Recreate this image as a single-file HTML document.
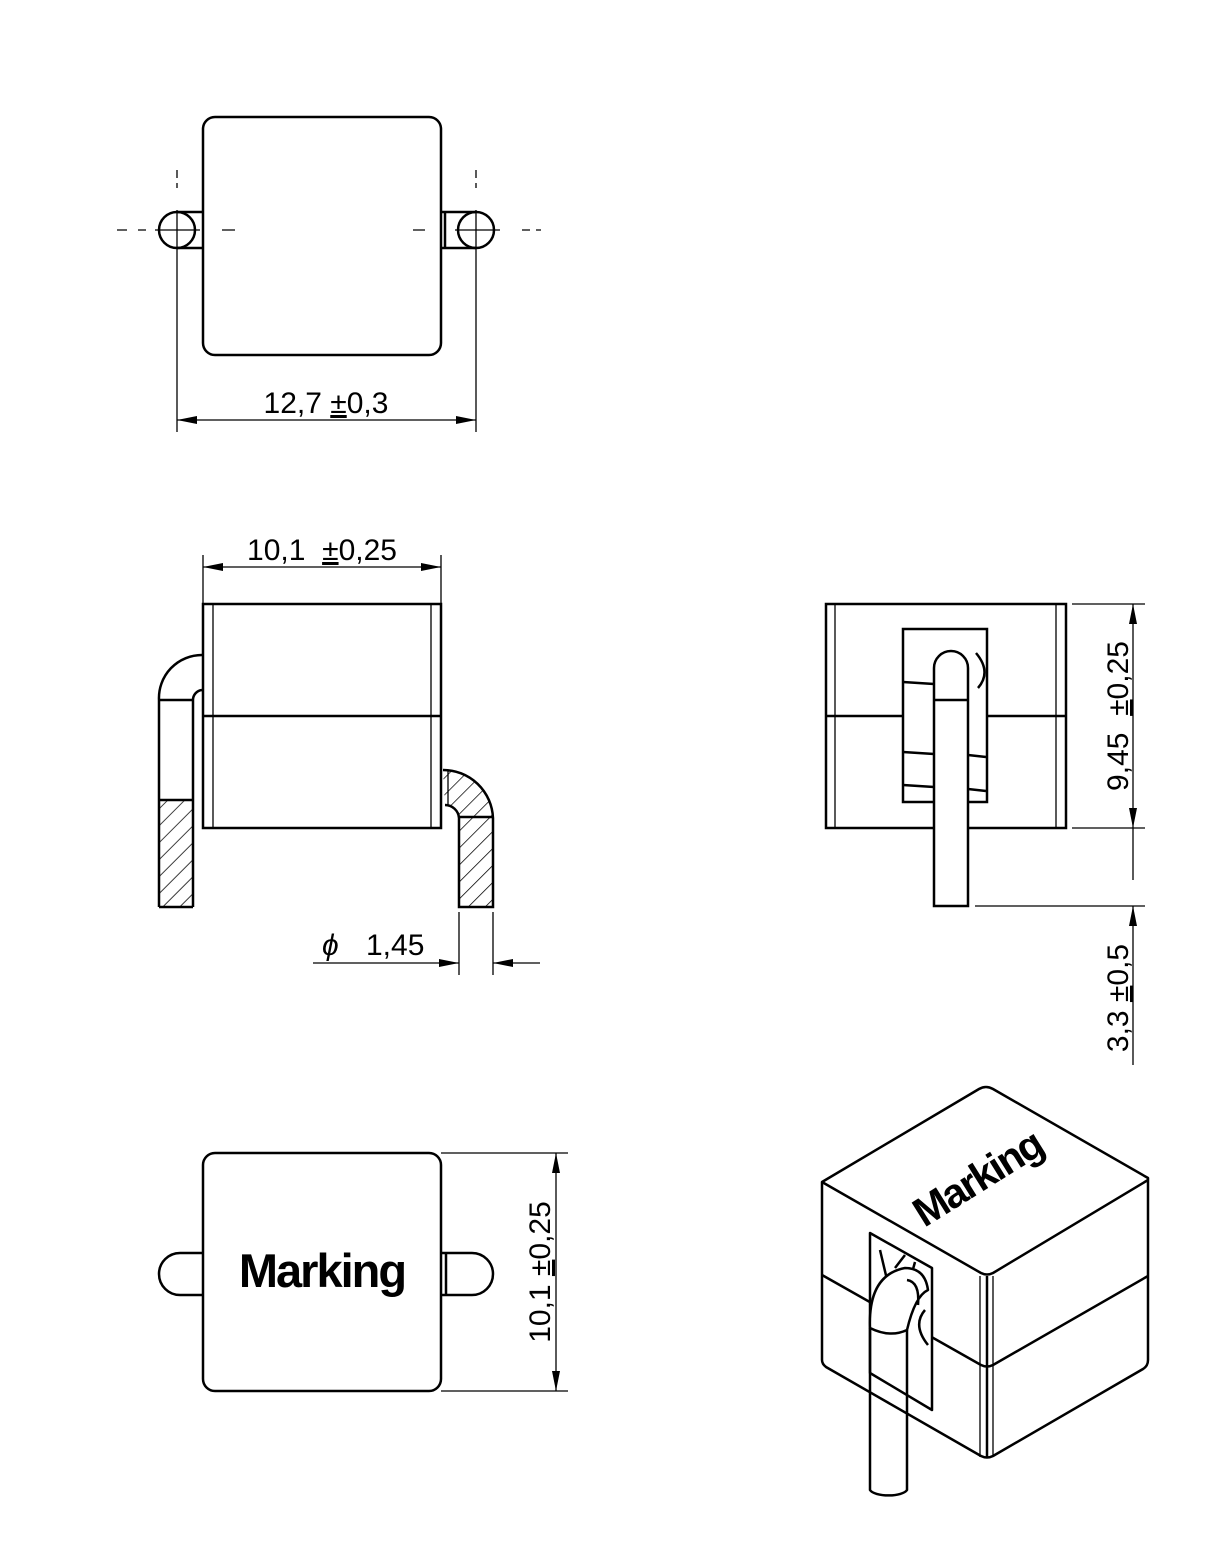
<!DOCTYPE html>
<html><head><meta charset="utf-8"><style>
html,body{margin:0;padding:0;background:#fff;}
svg{display:block;}
text{font-family:"Liberation Sans",sans-serif;fill:#000;}
</style></head><body>
<svg width="1229" height="1558" viewBox="0 0 1229 1558" xmlns="http://www.w3.org/2000/svg">
<defs>
<pattern id="h" patternUnits="userSpaceOnUse" width="12" height="12" patternTransform="rotate(45)">
<line x1="0" y1="0" x2="0" y2="12" stroke="#000" stroke-width="1.5"/>
</pattern>
<marker id="a" viewBox="0 0 20 8" refX="20" refY="4" markerWidth="20" markerHeight="8" markerUnits="userSpaceOnUse" orient="auto">
<path d="M0,0 L20,4 L0,8 Z" fill="#000"/></marker>
</defs>
<g fill="none" stroke="#000" stroke-width="2.5">
<!-- TOP VIEW -->
<rect x="203" y="117" width="238" height="238" rx="12"/>
<path d="M177,212 H203 M177,248 H203 M476,212 H441 M476,248 H441 M445,212 V248"/>
<circle cx="177" cy="230" r="18"/>
<circle cx="476" cy="230" r="18"/>
</g>
<g stroke="#000" stroke-width="1.3" fill="none">
<path d="M155,230 H200 M476,210 V432 M177,210 V432 M455,230 H500"/>
<path d="M117,230 H127 M138,230 H146 M222,230 H235 M413,230 H425 M522,230 H530 M536,230 H541"/>
<path d="M177,170 V178 M177,183 V188 M476,170 V178 M476,183 V188"/>
<line x1="326" y1="420" x2="177" y2="420" marker-end="url(#a)"/>
<line x1="326" y1="420" x2="476" y2="420" marker-end="url(#a)"/>
</g>
<text x="326" y="413" font-size="30" text-anchor="middle">12,7 <tspan text-decoration="underline">±</tspan>0,3</text>

<!-- FRONT VIEW -->
<g fill="none" stroke="#000" stroke-width="2.5">
<rect x="203" y="604" width="238" height="224"/>
<line x1="203" y1="716" x2="441" y2="716"/>
</g>
<g stroke="#000" stroke-width="1.3" fill="none">
<path d="M213,604 V828 M431,604 V828"/>
<path d="M203,555 V604 M441,555 V604"/>
<line x1="322" y1="567" x2="441" y2="567" marker-end="url(#a)"/>
<line x1="322" y1="567" x2="203" y2="567" marker-end="url(#a)"/>
</g>
<text x="322" y="560" font-size="30" text-anchor="middle">10,1 &#160;<tspan text-decoration="underline">±</tspan>0,25</text>
<!-- left lead -->
<rect x="159" y="800" width="34" height="107" fill="url(#h)"/>
<g fill="none" stroke="#000" stroke-width="2.5">
<path d="M159,907 V700 A43,43 0 0 1 202,655"/>
<path d="M193,907 V700 A10,10 0 0 1 202,690"/>
<path d="M159,700 H193 M159,907 H193 M159,800 H193"/>
</g>
<!-- right lead -->
<path d="M443,770 A50,50 0 0 1 493,818 V907 H459 V818 A14,14 0 0 0 445,805 Z" fill="url(#h)" stroke="none"/>
<g fill="none" stroke="#000" stroke-width="2.5">
<path d="M443,770 A50,50 0 0 1 493,818 V907 H459 V818 A14,14 0 0 0 445,805"/>
<path d="M459,817 H493"/>
</g>
<g stroke="#000" stroke-width="1.3" fill="none">
<path d="M448,770 V805 M459,912 V975 M493,912 V975"/>
<line x1="313" y1="963" x2="459" y2="963" marker-end="url(#a)"/>
<line x1="540" y1="963" x2="493" y2="963" marker-end="url(#a)"/>
</g>
<text x="322" y="955" font-size="30" font-style="italic">ϕ</text>
<text x="366" y="955" font-size="30">1,45</text>

<!-- SIDE VIEW -->
<g fill="none" stroke="#000" stroke-width="2.5">
<rect x="826" y="604" width="240" height="224"/>
<path d="M826,716 H903 M986,716 H1066"/>
<rect x="903" y="629" width="84" height="173"/>
<path d="M903,682 L934,684 M903,752 L934,754 M903,785 L934,787 M968,755 L986,757 M968,789 L986,791 M976,653 Q992,672 978,688"/>
<path d="M934,906 V668 A17,17 0 0 1 968,668 V906 Z" fill="#fff"/>
<path d="M934,700 H968"/>
</g>
<g stroke="#000" stroke-width="1.3" fill="none">
<path d="M835,604 V828 M1056,604 V828"/>
<path d="M1072,604 H1145 M1072,828 H1145 M975,906 H1145"/>
<line x1="1133" y1="716" x2="1133" y2="604" marker-end="url(#a)"/>
<line x1="1133" y1="716" x2="1133" y2="828" marker-end="url(#a)"/>
<line x1="1133" y1="1065" x2="1133" y2="906" marker-end="url(#a)"/>
<line x1="1133" y1="828" x2="1133" y2="880" />
</g>
<text transform="translate(1128,716) rotate(-90)" font-size="30" text-anchor="middle">9,45 &#160;<tspan text-decoration="underline">±</tspan>0,25</text>
<text transform="translate(1128,998) rotate(-90)" font-size="30" text-anchor="middle">3,3 <tspan text-decoration="underline">±</tspan>0,5</text>

<!-- BOTTOM VIEW -->
<g fill="none" stroke="#000" stroke-width="2.5">
<path d="M203,1253 H180 A21,21 0 0 0 180,1295 H203"/>
<path d="M441,1253 H472 A21,21 0 0 1 472,1295 H441 M446,1253 V1295"/>
<rect x="203" y="1153" width="238" height="238" rx="12" fill="#fff"/>
</g>
<text x="322" y="1287" font-size="47" font-weight="bold" text-anchor="middle" letter-spacing="-2">Marking</text>
<g stroke="#000" stroke-width="1.3" fill="none">
<path d="M441,1153 H568 M441,1391 H568"/>
<line x1="556" y1="1272" x2="556" y2="1153" marker-end="url(#a)"/>
<line x1="556" y1="1272" x2="556" y2="1391" marker-end="url(#a)"/>
</g>
<text transform="translate(550,1272) rotate(-90)" font-size="30" text-anchor="middle">10,1 <tspan text-decoration="underline">±</tspan>0,25</text>

<!-- ISO VIEW -->
<g fill="none" stroke="#000" stroke-width="2.5" stroke-linejoin="round">
<path d="M822,1182 L979,1089 Q986,1085 993,1089 L1148,1178 V1360 Q1148,1366 1143,1369 L993,1456 Q987,1459 981,1456 L826,1367 Q822,1364 822,1360 Z"/>
<path d="M822,1182 L981,1273 Q987,1276 993,1273 L1148,1180"/>
<path d="M822,1275 L981,1365 Q987,1368 993,1365 L1148,1276"/>
<path d="M987,1276 V1457"/>
<path d="M870,1233 L932,1268 V1410 L870,1373 Z" fill="#fff"/>
<path d="M880,1250 L893,1305 M905,1255 L895,1268 M915,1262 L910,1280 M925,1310 Q912,1325 928,1345"/>
<path d="M870,1328 V1490 A19,7 0 0 0 907,1490 V1330"/>
<path d="M870,1328 Q868,1275 905,1268 Q925,1268 928,1290 Q915,1296 907,1330 Q890,1338 870,1328 Z" fill="#fff"/>
<path d="M907,1280 Q920,1282 918,1305"/>
</g>
<g stroke="#000" stroke-width="1.3"><path d="M980,1276 V1457 M993,1276 V1457"/></g>
<text transform="translate(985,1190) rotate(-32)" font-size="41" font-weight="bold" text-anchor="middle" letter-spacing="-2">Marking</text>
</svg>
</body></html>
